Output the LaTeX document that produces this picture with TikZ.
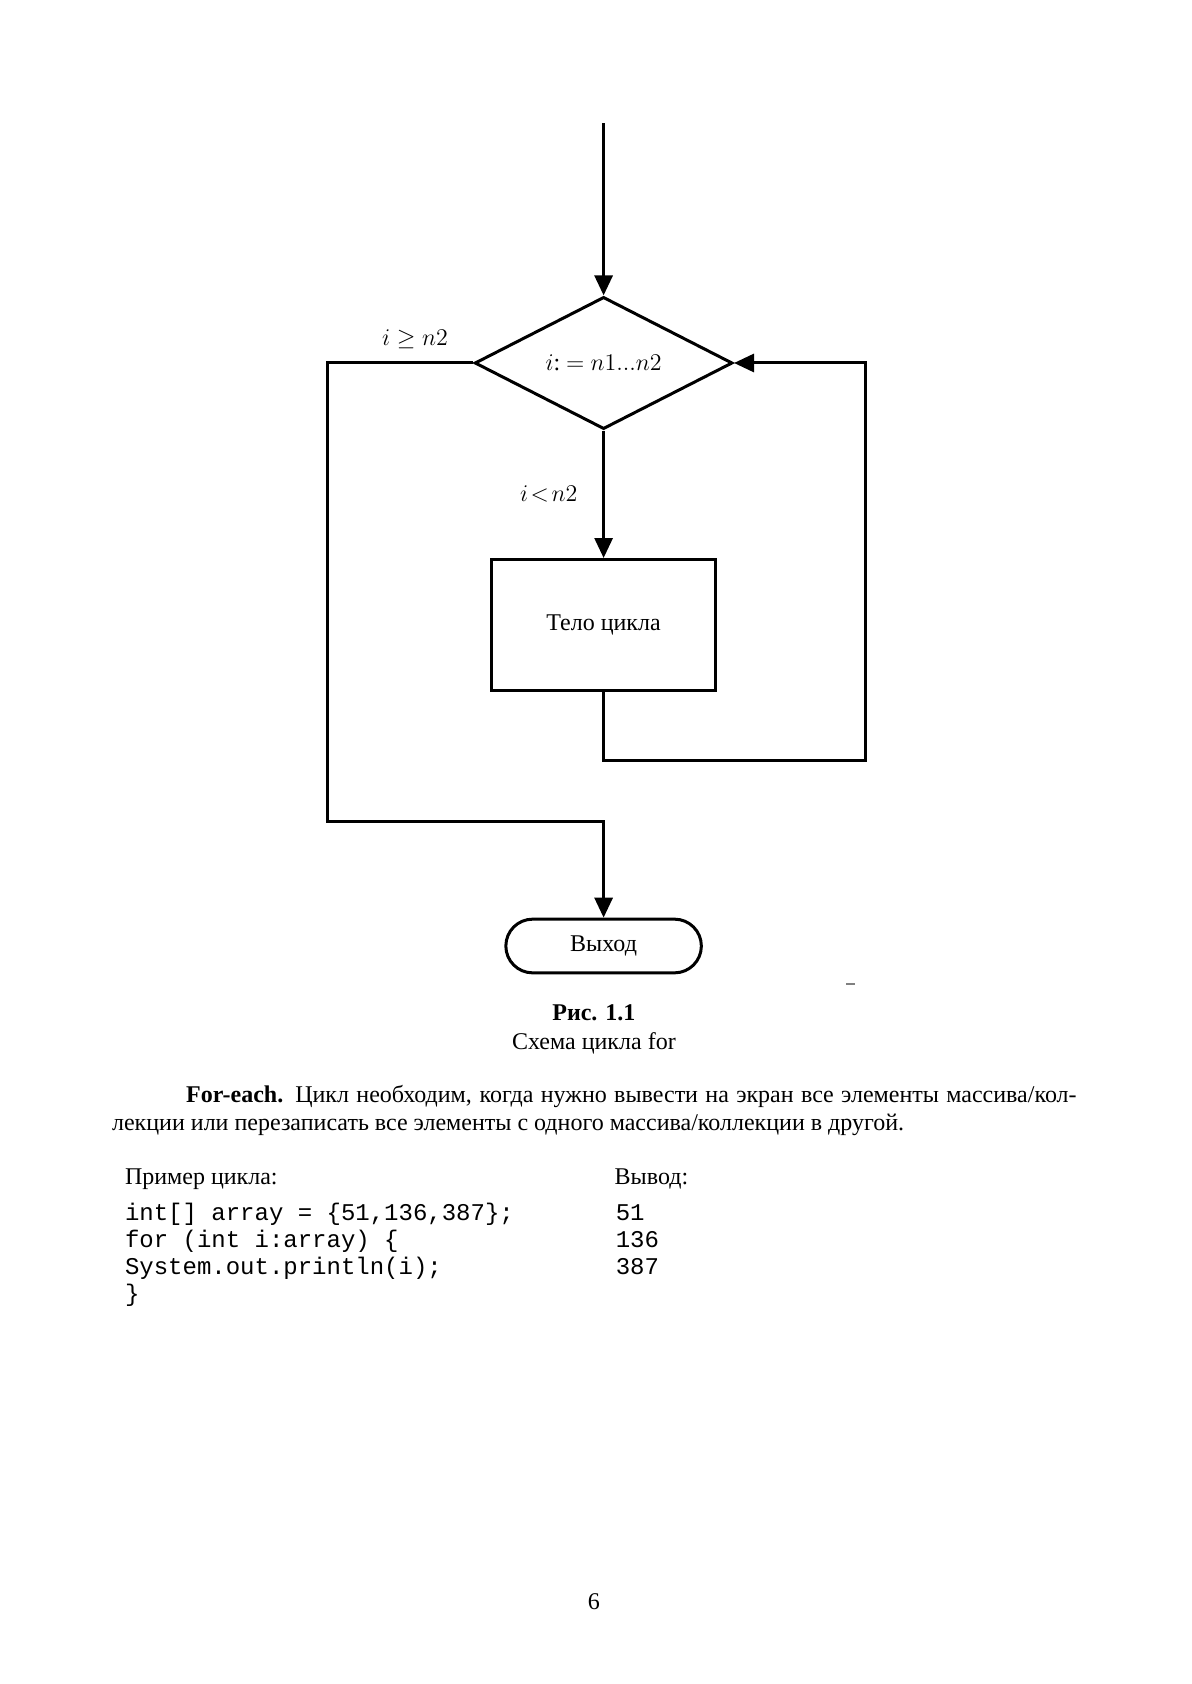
\documentclass[tikz,border=0pt]{standalone}
\usepackage{fontspec}
\setmainfont{Liberation Serif}
\setmonofont{Liberation Mono}
\usetikzlibrary{arrows.meta,positioning,shapes.geometric}

\begin{document}
\begin{tikzpicture}[x=0.5pt, y=-0.5pt,
  arrow/.style={line width=1.5pt, -{Triangle[length=10pt, width=9pt]}},
  line/.style={line width=1.5pt},
  cond/.style={draw, diamond, line width=1.5pt, minimum width=128.9pt, minimum height=64.45pt, inner sep=0pt, font=\fontsize{12}{14}\selectfont},
  proc/.style={draw, rectangle, line width=1.5pt, minimum width=111.7pt, minimum height=65.5pt, font=\fontsize{12}{14}\selectfont},
  term/.style={draw, rounded corners=13.4pt, line width=1.5pt, minimum width=97.75pt, minimum height=26.85pt, font=\fontsize{12}{14}\selectfont},
  lbl/.style={font=\fontsize{12}{14}\selectfont},
  txt/.style={anchor=base west, inner sep=0pt, font=\fontsize{12}{14}\selectfont},
  code/.style={anchor=base west, inner sep=0pt, font=\fontsize{12}{14}\ttfamily}
]
\useasboundingbox[fill=white] (0,0) rectangle (1191,1684);

% flowchart
\coordinate (start) at (603.6,123.5);
\node[cond] (loop) at (603.6,363) {$i$:~$=$~$n1...n2$};
\node[proc] (body) at (603.6,625) {Тело цикла};
\node[term] (exit) at (603.6,946) {Выход};
\coordinate (back) at (865.6,760.4);
\coordinate (turn) at (327.6,821.6);

\draw[arrow] (start) -- (loop.north);
\draw[arrow] (loop.south) -- node[lbl, left=9pt] {$i\!<\!n2$} (body.north);
\draw[arrow] (body.south) |- (back) |- (loop.east);
\draw[arrow] (loop.west) -| node[lbl, above=3pt, pos=0.2] {$i\geq n2$} (turn) -| (exit.north);

\draw[gray, line width=0.6pt] (846,984) -- (855,984);

% caption
\node[anchor=base, inner sep=0pt, font=\fontsize{12}{14}\bfseries] (fig) at (593.9,1020) {Рис. 1.1};
\node[anchor=base, inner sep=0pt, font=\fontsize{12}{14}\selectfont] (figname) at (593.9,1049) {Схема цикла for};

% text
\node[txt] (par1) at (185.8,1102) {\hbox to 445.2pt{\textbf{For-each.} Цикл необходим, когда нужно вывести на экран все элементы массива/кол-}};
\node[txt] (par2) at (111.7,1130) {лекции или перезаписать все элементы с одного массива/коллекции в другой.};

\node[txt] (ex) at (124.6,1184) {Пример цикла:};
\node[txt] (out) at (614.3,1184) {Вывод:};

\node[code] (c1) at (124.6,1220) {int[] array = \{51,136,387\};};
\node[code] (c2) at (124.6,1247) {for (int i:array) \{};
\node[code] (c3) at (124.6,1274) {System.out.println(i);};
\node[code] (c4) at (124.6,1301) {\}};

\node[code] (o1) at (615.4,1220) {51};
\node[code] (o2) at (615.4,1247) {136};
\node[code] (o3) at (615.4,1274) {387};

\node[anchor=base, inner sep=0pt, font=\fontsize{12}{14}\selectfont] (page) at (593.9,1609) {6};
\end{tikzpicture}
\end{document}
